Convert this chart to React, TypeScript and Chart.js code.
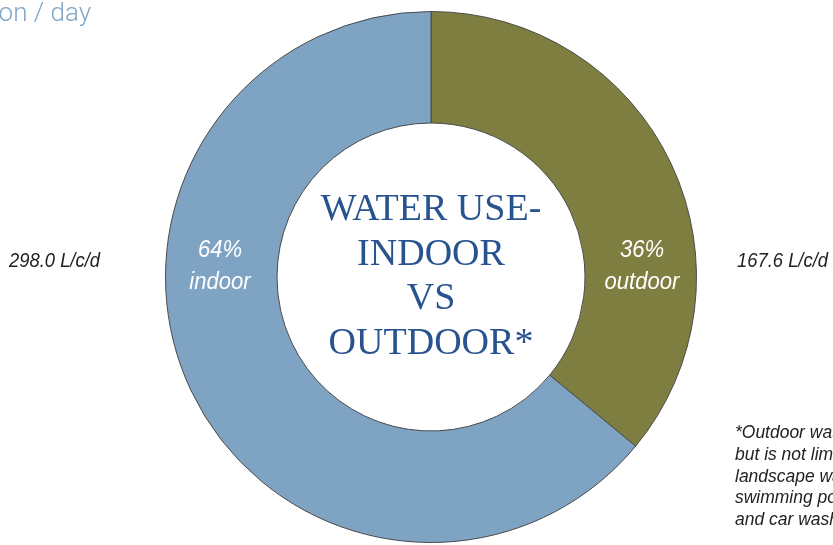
import React, { useEffect, useRef } from "react";
import { Chart, registerables } from "chart.js";

Chart.register(...registerables);

const categories = ["outdoor", "indoor"];
const values = [167.6, 298.0];
const percentLabels = ["36%", "64%"];
const amountLabels = ["167.6 L/c/d", "298.0 L/c/d"];
const colors = ["#7f7e41", "#7fa3c3"];
const titleLines = ["WATER USE-", "INDOOR", "VS", "OUTDOOR*"];
const footnoteLines = [
  "*Outdoor water use includes",
  "but is not limited to",
  "landscape watering,",
  "swimming pools",
  "and car washing",
];
const topNote = "on / day";

const SANS = "'Liberation Sans', Arial, sans-serif";

function fitText(
  ctx: CanvasRenderingContext2D,
  text: string,
  x: number,
  y: number,
  sx: number,
  align: "left" | "center" | "right"
) {
  const w = ctx.measureText(text).width * sx;
  let left = x;
  if (align === "center") left = x - w / 2;
  else if (align === "right") left = x - w;
  ctx.save();
  ctx.textAlign = "left";
  ctx.translate(left, y);
  ctx.scale(sx, 1);
  ctx.fillText(text, 0, 0);
  ctx.restore();
}

const textPlugin = {
  id: "textPlugin",
  afterDraw(chart: any) {
    const ctx = chart.ctx as CanvasRenderingContext2D;
    const meta = chart.getDatasetMeta(0);
    const arc0 = meta.data[0];
    const cx = arc0.x;
    const cy = arc0.y;
    ctx.save();
    ctx.textBaseline = "alphabetic";
    // center title
    ctx.fillStyle = "#27538f";
    ctx.font = "38px 'Liberation Serif', 'DejaVu Serif', serif";
    ctx.textAlign = "center";
    titleLines.forEach((t, i) => {
      ctx.fillText(t, cx, cy - 57 + i * 44.7);
    });
    // condensed factor from amount label
    ctx.font = `italic 20px ${SANS}`;
    const sx = 91 / ctx.measureText(amountLabels[1]).width;
    // in-slice labels
    ctx.fillStyle = "#ffffff";
    ctx.font = `italic 24px ${SANS}`;
    meta.data.forEach((arc: any, i: number) => {
      const mid = (arc.startAngle + arc.endAngle) / 2;
      const side = Math.cos(mid) >= 0 ? 1 : -1;
      const x = cx + side * 211;
      fitText(ctx, percentLabels[i], x, cy - 20, sx, "center");
      fitText(ctx, categories[i], x, cy + 12, sx, "center");
    });
    // amounts outside
    ctx.fillStyle = "#222222";
    ctx.font = `italic 20px ${SANS}`;
    fitText(ctx, amountLabels[0], 737, cy - 10, sx, "left");
    fitText(ctx, amountLabels[1], 100, cy - 10, sx, "right");
    // footnote
    ctx.font = `italic 19px ${SANS}`;
    footnoteLines.forEach((t, i) => {
      fitText(ctx, t, 735, 438.3 + i * 21.7, sx, "left");
    });
    // top note
    ctx.fillStyle = "#80a6c8";
    ctx.font = "300 26px Roboto, 'Liberation Sans', sans-serif";
    ctx.textAlign = "right";
    ctx.fillText(topNote, 91, 21);
    ctx.restore();
  },
};

export default function App() {
  const ref = useRef<HTMLCanvasElement>(null);
  useEffect(() => {
    document.body.style.margin = "0";
    const chart = new Chart(ref.current!, {
      type: "doughnut",
      data: {
        labels: categories,
        datasets: [
          {
            data: values,
            backgroundColor: colors,
            borderColor: "#4a4a4a",
            borderWidth: 1,
          },
        ],
      },
      options: {
        responsive: false,
        animation: false,
        cutout: "58%",
        layout: { padding: { left: 29, right: 0, top: 11, bottom: 2 } },
        plugins: { legend: { display: false }, tooltip: { enabled: false } },
      },
      plugins: [textPlugin],
    });
    return () => chart.destroy();
  }, []);
  return (
    <div style={{ position: "absolute", left: 0, top: 0, width: 833, height: 545 }}>
      <canvas ref={ref} width={833} height={545} />
    </div>
  );
}
